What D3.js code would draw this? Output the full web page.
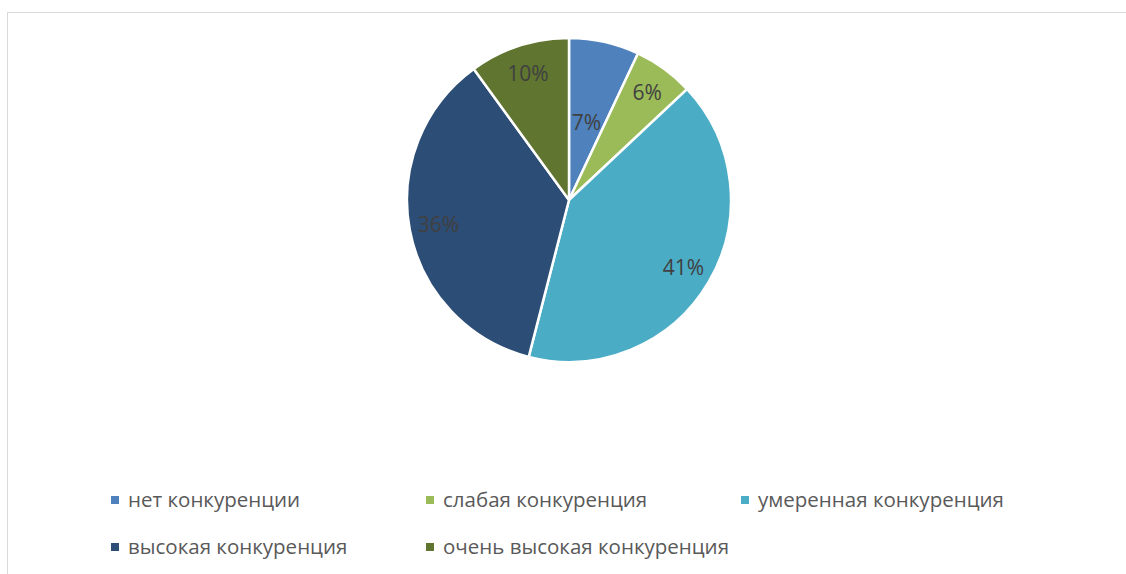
<!DOCTYPE html>
<html>
<head>
<meta charset="utf-8">
<script src="https://cdn.jsdelivr.net/npm/d3@7"></script>
<style>
  body { margin: 0; background: #fff; }
  svg { display: block; font-family: "Open Sans", sans-serif; }
</style>
</head>
<body>
<svg id="chart" width="1126" height="574"></svg>
<script>
// chart data
var categories = ["нет конкуренции", "слабая конкуренция", "умеренная конкуренция", "высокая конкуренция", "очень высокая конкуренция"];
var shares = [7, 6, 41, 36, 10];
var colors = ["#4F81BD", "#9BBB59", "#4BACC6", "#2C4D75", "#5F7530"];

var svg = d3.select("#chart");

// chart area frame
svg.append("rect")
  .attr("x", 7.5).attr("y", 12.5)
  .attr("width", 1140).attr("height", 600)
  .attr("fill", "none")
  .attr("stroke", "#d9d9d9")
  .attr("stroke-width", 1);

var cx = 569, cy = 200, radius = 162;

var pie = d3.pie().sort(null).value(function(d) { return d; });
var arcs = pie(shares);
var arc = d3.arc().innerRadius(0).outerRadius(radius);

var g = svg.append("g").attr("transform", "translate(" + cx + "," + cy + ")");

g.selectAll("path.slice")
  .data(arcs)
  .enter().append("path")
  .attr("class", "slice")
  .attr("d", arc)
  .attr("fill", function(d, i) { return colors[i]; })
  .attr("stroke", "#fff")
  .attr("stroke-width", 2.5)
  .attr("stroke-linejoin", "round");

// best-fit label placement: small first slice sits nearer the centre
function labelRadius(i) {
  return i == 0 ? radius * 0.49 : radius * 0.82;
}

g.selectAll("text.lbl")
  .data(arcs)
  .enter().append("text")
  .attr("class", "lbl")
  .attr("transform", function(d, i) {
    var a = (d.startAngle + d.endAngle) / 2;
    var r = labelRadius(i);
    return "translate(" + (Math.sin(a) * r) + "," + (-Math.cos(a) * r) + ")";
  })
  .attr("text-anchor", "middle")
  .attr("dy", "0.35em")
  .attr("fill", "#404040")
  .style("font-size", "21px")
  .text(function(d) { return d.data + "%"; });

// legend, three columns
var legend = svg.append("g");
var colX = d3.scaleLinear().domain([0, 1]).range([111, 426]);
var rowY = d3.scaleLinear().domain([0, 1]).range([500, 547]);

var item = legend.selectAll("g.item")
  .data(categories)
  .enter().append("g")
  .attr("class", "item")
  .attr("transform", function(d, i) {
    return "translate(" + colX(i % 3) + "," + rowY(Math.floor(i / 3)) + ")";
  });

item.append("rect")
  .attr("x", 0).attr("y", -4)
  .attr("width", 8).attr("height", 8)
  .attr("fill", function(d, i) { return colors[i]; });

item.append("text")
  .attr("x", 17)
  .attr("dy", "0.35em")
  .attr("fill", "#595959")
  .style("font-size", "20.5px")
  .text(function(d) { return d; });
</script>
</body>
</html>
